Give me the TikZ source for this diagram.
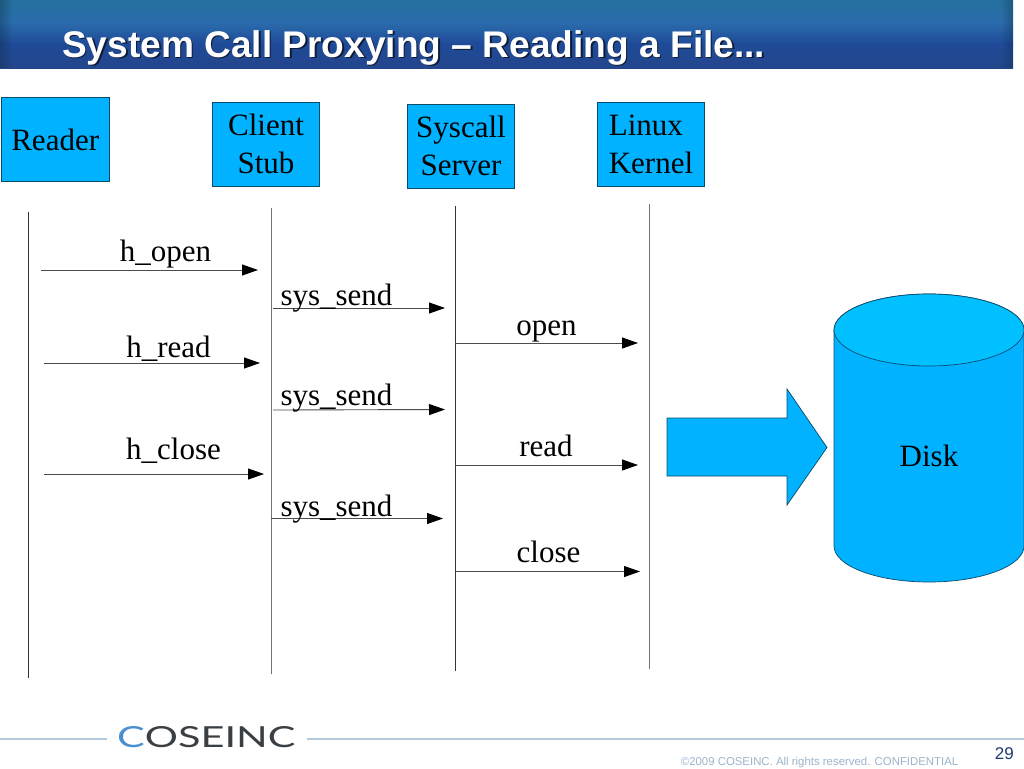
\documentclass[tikz,border=0pt]{standalone}
\usepackage{fontspec}
\setmainfont{Liberation Serif}
\newfontfamily\hdfont{Liberation Sans}
\newfontfamily\logofont{Lato}
\usetikzlibrary{arrows.meta,fadings}
\definecolor{boxblue}{HTML}{00B2FF}
\definecolor{topblue}{HTML}{00C0FF}
\definecolor{boxedge}{HTML}{0A4A6A}
\definecolor{barA}{HTML}{24709E}
\definecolor{barB}{HTML}{2A6CAC}
\definecolor{barC}{HTML}{1F4A98}
\definecolor{barD}{HTML}{23468C}
\definecolor{footline}{HTML}{B4C8DC}
\definecolor{foottext}{HTML}{9DB4CC}
\definecolor{pagenum}{HTML}{1F3A6E}
\definecolor{logoblue}{HTML}{4A90D0}
\definecolor{logodark}{HTML}{3A3F44}
\newcommand{\lifted}[2]{\raisebox{#1}[\height][\depth]{\begin{tabular}{@{}c@{}}#2\end{tabular}}}
\tikzset{
  actor/.style={draw=boxedge,line width=0.8pt,fill=boxblue,minimum width=107.5pt,minimum height=84.5pt,inner sep=0pt,align=center,font=\fontsize{31}{37.5}\selectfont},
  life/.style={draw=black!80,line width=0.8pt},
  lifegray/.style={draw=black!55,line width=1pt},
  msg/.style={draw=black!70,line width=0.9pt,-{Triangle[length=16pt,width=11pt,color=black]}},
  lbl/.style={inner sep=0pt,font=\fontsize{31}{36}\selectfont,anchor=base},
  solid shape/.style={draw=boxedge,line width=0.7pt,fill=boxblue}
}
\begin{document}
\begin{tikzpicture}[x=1pt,y=-1pt]
\useasboundingbox (0,0) rectangle (1024,768);
\fill[white] (0,0) rectangle (1024,768);
% header
\shade[top color=barA,bottom color=barC,middle color=barB] (0,0) rectangle (1013,44);
\shade[top color=barC,bottom color=barD] (0,44) rectangle (1013,68);
\fill[black!60!barA,opacity=0.35,path fading=east] (0,0) rectangle (12,68);
\fill[black!60!barA,opacity=0.35,path fading=west] (1001,0) rectangle (1013,68);
\node[anchor=base west,inner sep=0pt,text=black!60!barD] (titleshadow) at (63.5,58.5) {\hdfont\bfseries\fontsize{37.1}{42}\selectfont System Call Proxying – Reading a File...};
\node[anchor=base west,inner sep=0pt,text=white] (title) at (62,57) {\hdfont\bfseries\fontsize{37.1}{42}\selectfont System Call Proxying – Reading a File...};
% actor boxes
\node[actor,minimum width=108pt] (reader) at (55.2,139.5) {Reader};
\node[actor] (client) at (266,144.5) {\lifted{-2.5pt}{Client\\Stub}};
\node[actor] (syscall) at (461,146.5) {\lifted{-2.5pt}{Syscall\\Server}};
\node[actor,align=left] (kernel) at (651,144.5) {Linux\\Kernel};
% lifelines
\coordinate (l1t) at (28,212); \coordinate (l1b) at (28,678);
\coordinate (l2t) at (271.5,208); \coordinate (l2b) at (271.5,674);
\coordinate (l3t) at (455.5,206); \coordinate (l3b) at (455.5,671);
\coordinate (l4t) at (649.5,204); \coordinate (l4b) at (649.5,669);
\draw[life] (l1t) -- (l1b);
\draw[lifegray] (l2t) -- (l2b);
\draw[life] (l3t) -- (l3b);
\draw[lifegray] (l4t) -- (l4b);
% messages
\coordinate (a1) at (41,270); \coordinate (b1) at (258,270);
\coordinate (a2) at (273,308); \coordinate (b2) at (445,308);
\coordinate (a3) at (455,343); \coordinate (b3) at (638,343);
\coordinate (a4) at (44,363); \coordinate (b4) at (260,363);
\coordinate (a5) at (273,410); \coordinate (b5) at (445,409.5);
\coordinate (a6) at (455,465); \coordinate (b6) at (638,465);
\coordinate (a7) at (44,474); \coordinate (b7) at (264,474);
\coordinate (a8) at (271,518.5); \coordinate (b8) at (443,518.5);
\coordinate (a9) at (456,571.5); \coordinate (b9) at (640,571.5);
\draw[msg] (a1) -- (b1);
\draw[msg] (a2) -- (b2);
\draw[msg] (a3) -- (b3);
\draw[msg] (a4) -- (b4);
\draw[msg] (a5) -- (b5);
\draw[msg] (a6) -- (b6);
\draw[msg] (a7) -- (b7);
\draw[msg] (a8) -- (b8);
\draw[msg] (a9) -- (b9);
\node[lbl] (t1) at (165.5,261) {h\_open};
\node[lbl] (t2) at (336.5,305) {sys\_send};
\node[lbl] (t3) at (546.5,335) {open};
\node[lbl] (t4) at (168.5,357) {h\_read};
\node[lbl] (t5) at (336.5,405) {sys\_send};
\node[lbl] (t6) at (546,456) {read};
\node[lbl] (t7) at (173.5,459) {h\_close};
\node[lbl] (t8) at (336.5,516) {sys\_send};
\node[lbl] (t9) at (548.5,562) {close};
% big arrow
\coordinate (p1) at (667,418);
\coordinate (p2) at (787,418);
\coordinate (p3) at (787,389);
\coordinate (p4) at (827,447.5);
\coordinate (p5) at (787,505);
\coordinate (p6) at (787,476);
\coordinate (p7) at (667,476);
\draw[solid shape] (p1) -- (p2) -- (p3) -- (p4) -- (p5) -- (p6) -- (p7) -- cycle;
% cylinder
\path[solid shape] (834,330) arc[x radius=95,y radius=36,start angle=180,end angle=360] -- (1024,546)
  arc[x radius=95,y radius=36,start angle=0,end angle=180] -- cycle;
\draw[draw=boxedge,line width=0.7pt,fill=topblue] (929,330) ellipse[x radius=95,y radius=36];
\node[lbl] (disk) at (929,466) {Disk};
% footer
\coordinate (f1) at (0,739); \coordinate (f2) at (107,739);
\coordinate (f3) at (307,739); \coordinate (f4) at (1024,739);
\draw[footline,line width=1.2pt] (f1) -- (f2);
\draw[footline,line width=1.2pt] (f3) -- (f4);
\node[anchor=base west,inner sep=0pt] (logo) at (117,747) {\scalebox{1.43}[1]{\logofont\fontsize{29}{30}\selectfont\textcolor{logoblue}{C}\textcolor{logodark}{OSEINC}}};
\node[anchor=base east,inner sep=0pt,text=foottext] (copy) at (958.5,765) {\hdfont\fontsize{11.4}{13}\selectfont ©2009 COSEINC. All rights reserved. CONFIDENTIAL};
\node[anchor=base east,inner sep=0pt,text=pagenum] (page) at (1014,759) {\hdfont\fontsize{17}{18}\selectfont 29};
\end{tikzpicture}
\end{document}
